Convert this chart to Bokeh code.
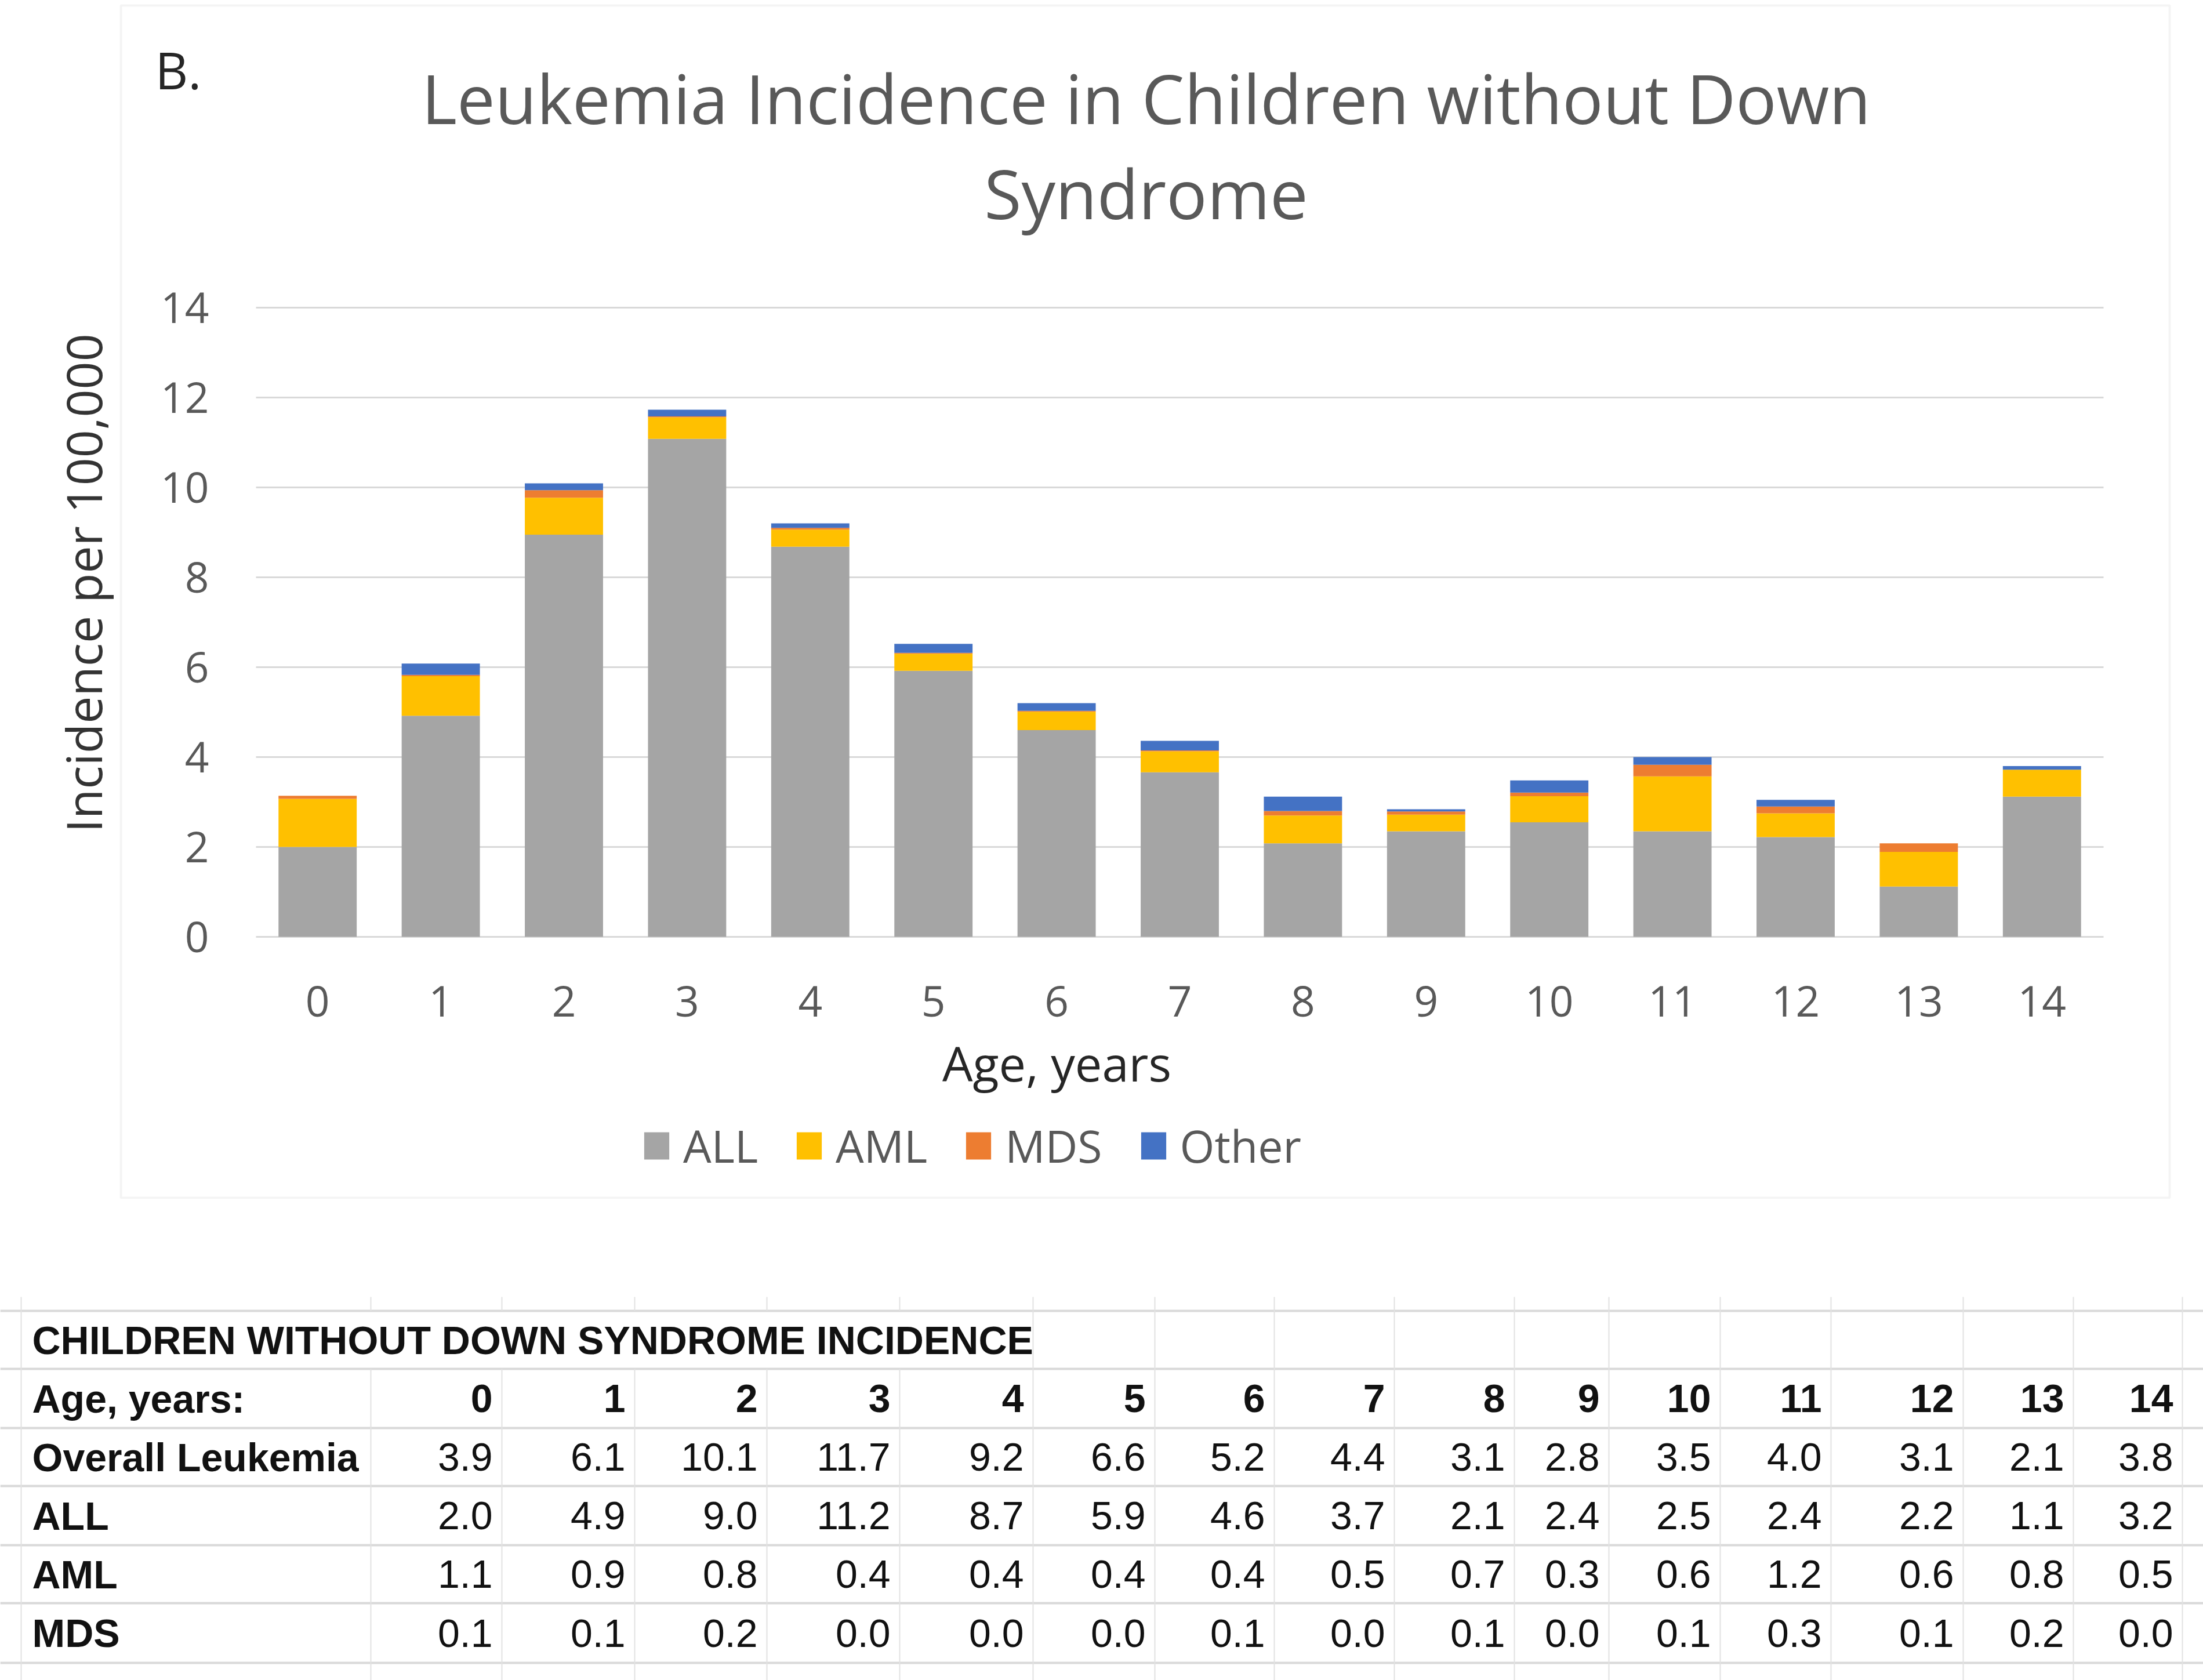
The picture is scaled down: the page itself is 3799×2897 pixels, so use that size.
import math
from bokeh.plotting import figure
from bokeh.models import (ColumnDataSource, Range1d, FixedTicker, Legend, LegendItem,
                          Label, LinearAxis, BoxAnnotation)
from bokeh.layouts import column
from bokeh.core.properties import value
from bokeh.embed import file_html
from bokeh.resources import INLINE

# ---------------- data ----------------
ages = list(range(15))
age_labels = [str(a) for a in ages]
series_names = ["ALL", "AML", "MDS", "Other"]
all_vals = [2.0, 4.92, 8.95, 11.08, 8.68, 5.92, 4.6, 3.66, 2.08, 2.35, 2.55, 2.35, 2.22, 1.12, 3.12]
aml_vals = [1.07, 0.88, 0.82, 0.48, 0.38, 0.38, 0.41, 0.47, 0.62, 0.37, 0.58, 1.22, 0.53, 0.77, 0.6]
mds_vals = [0.07, 0.03, 0.17, 0.02, 0.04, 0.02, 0.02, 0.02, 0.1, 0.07, 0.08, 0.26, 0.15, 0.19, 0.0]
other_vals = [0.0, 0.25, 0.15, 0.15, 0.1, 0.2, 0.17, 0.21, 0.32, 0.05, 0.27, 0.17, 0.15, 0.0, 0.08]
y_ticks = [0, 2, 4, 6, 8, 10, 12, 14]

table_title = "CHILDREN WITHOUT DOWN SYNDROME INCIDENCE"
table_header = "Age, years:"
table_row_labels = ["Overall Leukemia", "ALL", "AML", "MDS"]
overall_t = [3.9, 6.1, 10.1, 11.7, 9.2, 6.6, 5.2, 4.4, 3.1, 2.8, 3.5, 4.0, 3.1, 2.1, 3.8]
all_t = [2.0, 4.9, 9.0, 11.2, 8.7, 5.9, 4.6, 3.7, 2.1, 2.4, 2.5, 2.4, 2.2, 1.1, 3.2]
aml_t = [1.1, 0.9, 0.8, 0.4, 0.4, 0.4, 0.4, 0.5, 0.7, 0.3, 0.6, 1.2, 0.6, 0.8, 0.5]
mds_t = [0.1, 0.1, 0.2, 0.0, 0.0, 0.0, 0.1, 0.0, 0.1, 0.0, 0.1, 0.3, 0.1, 0.2, 0.0]

colors = ["#A5A5A5", "#FFC000", "#ED7D31", "#4472C4"]
FONT = "Open Sans"
TFONT = "Liberation Sans"

# ---------------- chart layout (page pixels) ----------------
CW, CH = 3744, 2067            # chart canvas, page x 0..3744, y 0..2067
plot_l, plot_r = 441, 3627      # plot area horizontal extent
y0_px, y14_px = 1615, 530       # pixel rows of value 0 and 14
ppx = (plot_r - plot_l) / 15.0
ppy = (y0_px - y14_px) / 14.0
x_start = -0.5 - plot_l / ppx
x_end = x_start + CW / ppx
y_start = -(CH - y0_px) / ppy
y_end = y_start + CH / ppy

source = ColumnDataSource(dict(x=ages, ALL=all_vals, AML=aml_vals, MDS=mds_vals, Other=other_vals))

p = figure(width=CW, height=CH, x_range=Range1d(x_start, x_end), y_range=Range1d(y_start, y_end),
           output_backend="svg", toolbar_location=None, min_border=0,
           x_axis_location=None, y_axis_location=None)
p.title.text = ""
p.outline_line_color = None
p.grid.visible = False
p.background_fill_color = "white"
p.border_fill_color = "white"

# horizontal gridlines across the category span
p.segment(x0=[ages[0] - 0.5] * len(y_ticks), x1=[ages[-1] + 0.5] * len(y_ticks),
          y0=y_ticks, y1=y_ticks, line_color="#d9d9d9", line_width=3, level="underlay")

renderers = p.vbar_stack(series_names, x="x", width=0.635, fill_color=colors,
                         line_color=None, source=source)

xaxis = LinearAxis(fixed_location=0, ticker=FixedTicker(ticks=ages),
                   major_label_overrides={a: s for a, s in zip(ages, age_labels)})
yaxis = LinearAxis(fixed_location=ages[0] - 0.5, ticker=FixedTicker(ticks=y_ticks))
for ax in (xaxis, yaxis):
    ax.axis_line_color = None
    ax.major_tick_line_color = None
    ax.minor_tick_line_color = None
    ax.major_label_text_font = FONT
    ax.major_label_text_font_size = "73px"
    ax.major_label_text_color = "#595959"
yaxis.major_label_standoff = 75
xaxis.major_label_standoff = 78
p.add_layout(xaxis, "below")
p.add_layout(yaxis, "left")

legend = Legend(items=[LegendItem(label=n, renderers=[r]) for n, r in zip(series_names, renderers)],
                orientation="horizontal", location=(1105, 39), padding=0, margin=0,
                glyph_width=54, glyph_height=59, label_standoff=19, spacing=61,
                label_text_font=FONT, label_text_font_size="77px", label_text_color="#595959",
                background_fill_alpha=0, border_line_color=None)
p.add_layout(legend)

def lab(text, x, y, size, color, align="center", angle=0):
    p.add_layout(Label(text=text, x=x, y=CH - y, x_units="screen", y_units="screen",
                       text_font=FONT, text_font_size=size, text_color=color,
                       text_align=align, text_baseline="middle", angle=angle))

lab("Leukemia Incidence in Children without Down", 1976, 168, "117px", "#595959")
lab("Syndrome", 1976, 332, "117px", "#595959")
lab("B.", 267, 119, "88px", "#262626", align="left")
lab("Age, years", 1822, 1832, "83px", "#262626")
lab("Incidence per 100,000", 143, 1005, "84px", "#333333", angle=math.pi / 2)

# chart box border
p.add_layout(BoxAnnotation(left=208, right=3741, bottom=2, top=CH - 9,
                           left_units="screen", right_units="screen",
                           bottom_units="screen", top_units="screen",
                           fill_alpha=0, line_color="#d9d9d9", line_width=4))

# ---------------- table ----------------
col_edges = [36, 639, 865, 1094, 1322, 1551, 1781, 1991, 2197, 2404, 2611, 2774, 2966, 3157, 3385, 3575, 3763]
row_edges = [2260, 2360, 2462, 2562, 2664, 2764, 2867]
TW, TH = 3799, 830

t = figure(width=TW, height=TH, x_range=Range1d(0, TW), y_range=Range1d(CH + TH, CH),
           output_backend="svg", toolbar_location=None, min_border=0,
           x_axis_location=None, y_axis_location=None)
t.title.text = ""
t.outline_line_color = None
t.grid.visible = False

t.segment(x0=[0] * len(row_edges), x1=[TW] * len(row_edges), y0=row_edges, y1=row_edges,
          line_color="#d9d9d9", line_width=4)
vx0, vy0, vy1 = [], [], []
for e in col_edges:
    if 36 < e < 1781:
        vx0 += [e, e]
        vy0 += [2236, row_edges[1]]
        vy1 += [row_edges[0], CH + TH]
    else:
        vx0.append(e)
        vy0.append(2236)
        vy1.append(CH + TH)
t.segment(x0=vx0, x1=vx0, y0=vy0, y1=vy1, line_color="#e2e2e2", line_width=2)

row_mid = [(row_edges[i] + row_edges[i + 1]) / 2 for i in range(len(row_edges) - 1)]
pad = 16
val_x = [col_edges[i + 2] - pad for i in range(len(ages))]
TS = "68px"

t.text(x=[55] * 6, y=row_mid, text=[table_title, table_header] + table_row_labels,
       text_font=value(TFONT), text_font_style="bold", text_font_size=TS,
       text_align="left", text_baseline="middle", text_color="#111111")
t.text(x=val_x, y=[row_mid[1]] * len(ages), text=age_labels,
       text_font=value(TFONT), text_font_style="bold", text_font_size=TS,
       text_align="right", text_baseline="middle", text_color="#111111")
vx, vy, vt = [], [], []
for r, vals in enumerate([overall_t, all_t, aml_t, mds_t]):
    for i, v in enumerate(vals):
        vx.append(val_x[i])
        vy.append(row_mid[2 + r])
        vt.append(f"{v:.1f}")
t.text(x=vx, y=vy, text=vt, text_font=value(TFONT), text_font_size=TS,
       text_align="right", text_baseline="middle", text_color="#111111")

layout = column(p, t)
open("out.html", "w").write(file_html(layout, INLINE))
